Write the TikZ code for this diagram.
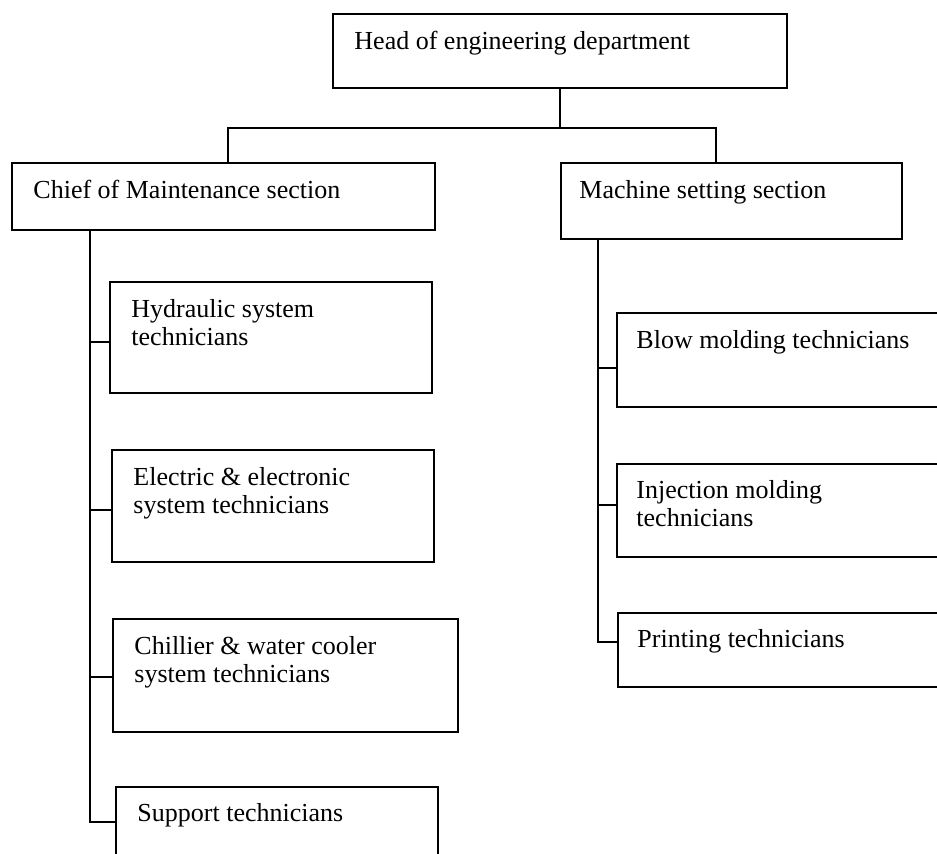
\documentclass[tikz,border=0pt]{standalone}
\usepackage{fontspec}
\setmainfont{Liberation Serif}
\usetikzlibrary{positioning}

\tikzset{
  unitbox/.style={draw, line width=1.5pt, inner sep=0pt},
  boxtext/.style={inner sep=0pt, align=left, font=\fontsize{26}{28}\selectfont},
  link/.style={line width=1.4pt}
}

\begin{document}
\begin{tikzpicture}[x=1pt, y=-1pt]

  \useasboundingbox (0,0) rectangle (937,854);
  \clip (0,0) rectangle (937,854);

  %%%%%%%%%%%%%%%%%%%%%%%%%%%%%%%%%%%%%%%%%%%%%%%%%
  % Top level
  \node[unitbox, minimum width=454pt, minimum height=74pt] (head) at (560,51) {};
  \node[boxtext, below right=18pt and 22pt of head.north west] (headT)
      {Head of engineering department};

  \node[unitbox, minimum width=423pt, minimum height=67pt] (chief) at (223.5,196.5) {};
  \node[boxtext, below right=18pt and 22pt of chief.north west] (chiefT)
      {Chief of Maintenance section};

  \node[unitbox, minimum width=341pt, minimum height=76pt] (machine) at (731.5,201) {};
  \node[boxtext, below right=18pt and 19pt of machine.north west] (machineT)
      {Machine setting section};

  % Branch from head
  \coordinate (busL) at (228,128);
  \coordinate (busR) at (716,128);
  \draw[link] (head.south) -- (head.south |- busL);
  \draw[link] (busL |- chief.north) -- (busL) -- (busR) -- (busR |- machine.north);

  %%%%%%%%%%%%%%%%%%%%%%%%%%%%%%%%%%%%%%%%%%%%%%%%%
  % Maintenance section
  \node[unitbox, minimum width=322pt, minimum height=111pt] (hyd) at (271,337.5) {};
  \node[boxtext, below right=18pt and 22pt of hyd.north west] (hydT)
      {Hydraulic system\\technicians};

  \node[unitbox, minimum width=322pt, minimum height=112pt] (elec) at (273,506) {};
  \node[boxtext, below right=18pt and 22pt of elec.north west] (elecT)
      {Electric \& electronic\\system technicians};

  \node[unitbox, minimum width=345pt, minimum height=113pt] (chill) at (285.5,675.5) {};
  \node[boxtext, below right=18pt and 22pt of chill.north west] (chillT)
      {Chillier \& water cooler\\system technicians};

  \node[unitbox, minimum width=322pt, minimum height=70pt] (supp) at (277,822) {};
  \node[boxtext, below right=17pt and 22pt of supp.north west] (suppT)
      {Support technicians};

  % Spine
  \coordinate (spL) at (90,230);
  \coordinate (hydIn) at ([yshift=-4.5pt]hyd.west);
  \coordinate (elecIn) at ([yshift=-4pt]elec.west);
  \coordinate (chillIn) at ([yshift=-1.5pt]chill.west);
  \draw[link] (spL) |- (supp.west);
  \draw[link] (spL |- hydIn) -- (hydIn);
  \draw[link] (spL |- elecIn) -- (elecIn);
  \draw[link] (spL |- chillIn) -- (chillIn);

  %%%%%%%%%%%%%%%%%%%%%%%%%%%%%%%%%%%%%%%%%%%%%%%%%
  % Machine setting section
  \node[unitbox, minimum width=343pt, minimum height=94pt] (blow) at (788.5,360) {};
  \node[boxtext, below right=18pt and 20pt of blow.north west] (blowT)
      {Blow molding technicians};

  \node[unitbox, minimum width=343pt, minimum height=93pt] (inj) at (788.5,510.5) {};
  \node[boxtext, below right=17pt and 20pt of inj.north west] (injT)
      {Injection molding\\technicians};

  \node[unitbox, minimum width=342pt, minimum height=74pt] (print) at (789,650) {};
  \node[boxtext, below right=17pt and 20pt of print.north west] (printT)
      {Printing technicians};

  % Spine
  \coordinate (spR) at (598,239);
  \coordinate (blowIn) at ([yshift=-8pt]blow.west);
  \coordinate (injIn) at ([yshift=5.5pt]inj.west);
  \coordinate (printIn) at ([yshift=8pt]print.west);
  \draw[link] (spR) |- (printIn);
  \draw[link] (spR |- blowIn) -- (blowIn);
  \draw[link] (spR |- injIn) -- (injIn);

\end{tikzpicture}
\end{document}
